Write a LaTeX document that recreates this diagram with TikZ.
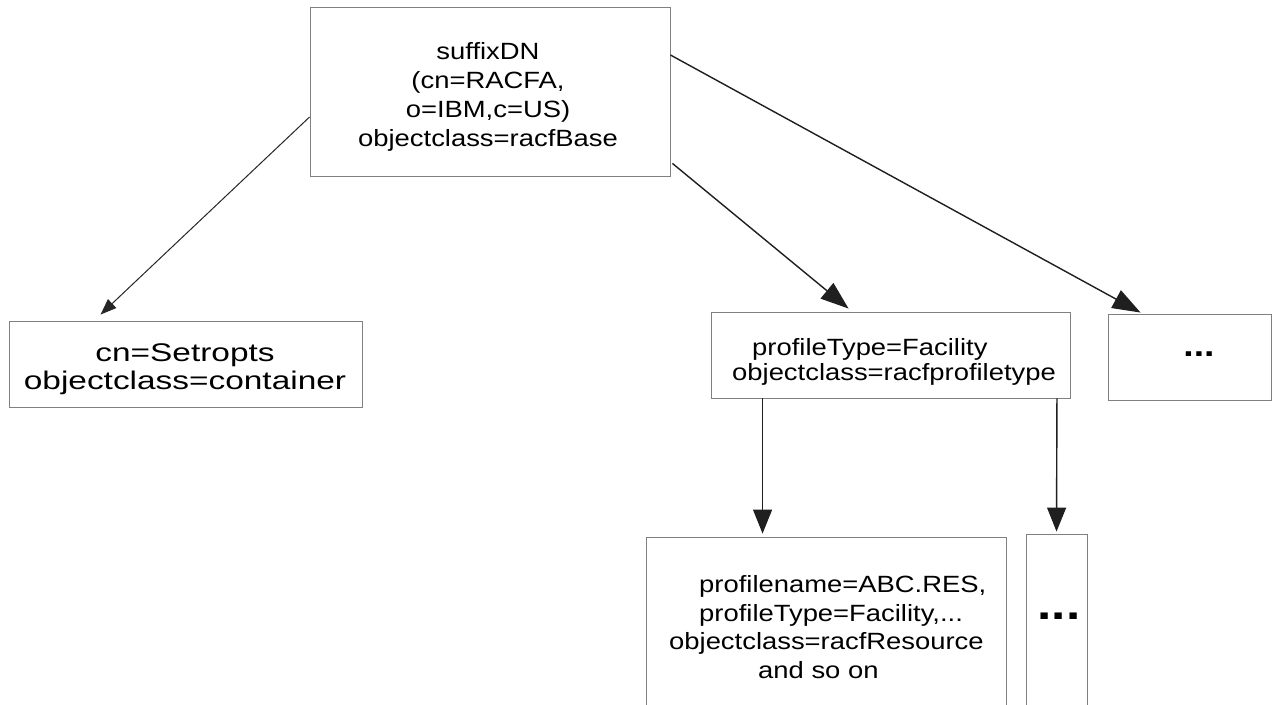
\documentclass[tikz,border=0pt]{standalone}
\usepackage{fontspec}
\setmainfont{Liberation Sans}[FakeStretch=1.166]
\newfontfamily\wideF{Liberation Sans}[FakeStretch=1.31]
\usetikzlibrary{arrows.meta}
\begin{document}
\begin{tikzpicture}[x=1pt,y=-1pt,
  box/.style={draw=black!50, line width=0.9pt, rectangle, inner sep=0pt},
  txt/.style={inner sep=0pt, font=\fontsize{23.5}{29}\selectfont},
  arrbig/.style={draw=black!88, line width=1.4pt, -{Triangle[length=28pt,width=20pt]}},
  arrv/.style={draw=black!88, line width=1.4pt, -{Triangle[length=24pt,width=19pt]}},
  arrthin/.style={draw=black!85, line width=1pt, -{Triangle[length=16pt,width=12pt]}}]
\useasboundingbox (0,0) rectangle (1273,704);
\fill[white] (0,0) rectangle (1273,704);
\clip (0,0) rectangle (1273,704);

% boxes
\node[box, minimum width=360pt, minimum height=169pt] (top) at (490,91.5) {};
\node[box, minimum width=353pt, minimum height=86pt] (setopts) at (185.5,364) {};
\node[box, minimum width=359pt, minimum height=86pt] (facility) at (890.5,355) {};
\node[box, minimum width=163pt, minimum height=86pt] (rbox) at (1189.5,357) {};
\node[box, minimum width=360pt, minimum height=177pt] (resource) at (826,625.5) {};
\node[box, minimum width=61pt, minimum height=180pt] (sbox) at (1056.5,624) {};

% texts
\node[txt, align=center] (toptxt) at (488,97) {suffixDN\\(cn=RACFA,\\o=IBM,c=US)\\objectclass=racfBase};
\node[txt, align=center, font=\wideF\fontsize{25.5}{28}\selectfont] (settxt) at (185,369.4) {cn=Setropts\\objectclass=container};
\node[txt, align=left, anchor=west, font=\fontsize{23.5}{25}\selectfont] (factxt) at (732,361.5) {\hspace*{20pt}profileType=Facility\\objectclass=racfprofiletype};
\node[txt, align=left, anchor=west, font=\fontsize{23.5}{28.5}\selectfont] (restxt) at (669,627) {\hspace*{30pt}profilename=ABC.RES,\\\hspace*{30pt}profileType=Facility,...\\objectclass=racfResource\\\hspace*{89pt}and so on};
\node[inner sep=0pt, font=\bfseries\fontsize{32}{32}\selectfont] (rdots) at (1199,354) {...};
\node[inner sep=0pt, font=\bfseries\fontsize{44}{44}\selectfont] (sdots) at (1059,616) {...};

% connectors
\draw[arrthin] ([yshift=-25.5pt]top.west) -- ([xshift=92pt,yshift=6pt]setopts.north west);
\draw[arrbig] ([xshift=2pt,yshift=13pt]top.south east) -- ([xshift=138pt,yshift=3pt]facility.north west);
\draw[arrbig] ([yshift=36.5pt]top.east) -- ([xshift=33pt,yshift=1pt]rbox.north west);
\draw[arrv] ([xshift=52pt]facility.south west) -- ([xshift=117pt,yshift=3pt]resource.north west);
\draw[arrv] ([xshift=-13.5pt]facility.south east) -- ([yshift=2pt]sbox.north);
\end{tikzpicture}
\end{document}
